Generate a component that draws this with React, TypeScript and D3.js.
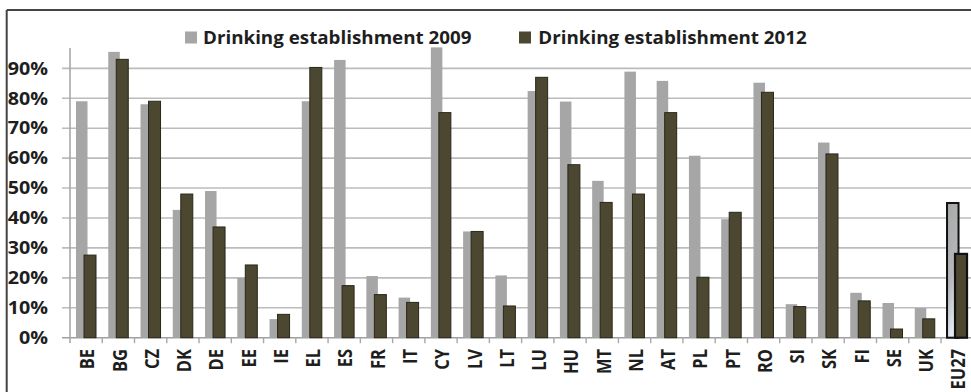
import React from "react";
import * as d3 from "d3";

const categories = ["BE","BG","CZ","DK","DE","EE","IE","EL","ES","FR","IT","CY","LV","LT","LU","HU","MT","NL","AT","PL","PT","RO","SI","SK","FI","SE","UK","EU27"];
const values2009 = [79,95.5,78,42.7,49,20,6.2,79,92.8,20.6,13.4,97,35.5,20.8,82.4,78.9,52.4,88.9,85.8,60.8,39.6,85.2,11.2,65.2,15,11.6,9.9,45];
const values2012 = [27.6,93,79,48,37,24.3,7.8,90.3,17.4,14.4,11.8,75.2,35.5,10.6,87,57.8,45.2,48,75.2,20.2,41.9,82,10.4,61.4,12.3,2.9,6.3,28];
const yTicks = [0,10,20,30,40,50,60,70,80,90];
const seriesNames = ["Drinking establishment 2009","Drinking establishment 2012"];

const W = 971, H = 392;
const GRAY = "#a6a6a6";
const DARK = "#4c4731";
const DARK_STROKE = "#2a2718";
const FONT = "'Open Sans', 'DejaVu Sans', sans-serif";

export default function App() {
  const x = d3.scaleBand<string>().domain(categories).range([70, 70 + 28 * 32.26]).paddingInner(0).paddingOuter(0);
  const y = d3.scaleLinear().domain([0, 100]).range([337.7, 38.4]);
  const bw = x.bandwidth();
  const gOff = bw * 0.186, gW = bw * 0.357;
  const dOff = bw * 0.434, dW = bw * 0.372;
  const last = categories.length - 1;

  return (
    <div style={{ position: "absolute", left: 0, top: 0 }}>
      <svg width={W} height={H} style={{ display: "block", background: "#fff" }}>
        <defs>
          <linearGradient id="euGray" x1="0" y1="0" x2="0.3" y2="1">
            <stop offset="0" stopColor="#a8a8a8" />
            <stop offset="0.6" stopColor="#b4b6b9" />
            <stop offset="1" stopColor="#e4ebf3" />
          </linearGradient>
        </defs>
        {/* frame */}
        <line x1={6.7} x2={W} y1={10} y2={10} stroke="#444" strokeWidth={2} />
        <line x1={6.7} x2={6.7} y1={10} y2={H} stroke="#444" strokeWidth={2} />

        {/* gridlines */}
        {yTicks.map((t) => (
          <line key={"g" + t} x1={62} x2={W} y1={y(t)} y2={y(t)} stroke={t === 0 ? "#a0a0a0" : "#bcbcbc"} strokeWidth={1.6} />
        ))}
        {/* y axis */}
        <line x1={70} x2={70} y1={48} y2={343} stroke="#a8a8a8" strokeWidth={1.6} />
        {/* x ticks */}
        {categories.map((c, i) => (i > 0 ? (
          <line key={"t" + c} x1={x(c)!} x2={x(c)!} y1={y(0)} y2={y(0) + 5.5} stroke="#a8a8a8" strokeWidth={1.4} />
        ) : null))}

        {/* bars */}
        {categories.map((c, i) => {
          const x0 = x(c)!;
          const isEU = i === last;
          return (
            <g key={"b" + c}>
              <rect x={x0 + gOff} y={y(values2009[i])} width={gW} height={y(0) - y(values2009[i])}
                fill={isEU ? "url(#euGray)" : GRAY} stroke={isEU ? "#111" : "none"} strokeWidth={isEU ? 2 : 0} />
              <rect x={x0 + dOff} y={y(values2012[i])} width={dW} height={y(0) - y(values2012[i])}
                fill={DARK} stroke={isEU ? "#111" : DARK_STROKE} strokeWidth={isEU ? 2.2 : 1} />
            </g>
          );
        })}

        {/* y labels */}
        {yTicks.map((t) => (
          <text key={"l" + t} transform={`translate(48,${y(t) + 6.3}) scale(1.16,1)`} textAnchor="end"
            fontFamily={FONT} fontWeight="bold" fontSize={17} fill="#1e1e1e">{t + "%"}</text>
        ))}

        {/* x labels */}
        {categories.map((c) => (
          <text key={"x" + c} transform={`translate(${x(c)! + bw / 2 + 1},349) scale(1.22,1) rotate(-90)`}
            textAnchor="end" dy="0.36em" fontFamily={FONT} fontWeight="bold" fontSize={16.5} fill="#1e1e1e">{c}</text>
        ))}

        {/* legend */}
        <rect x={185} y={31.5} width={12} height={12} fill={GRAY} />
        <text x={203} y={43.8} fontFamily={FONT} fontWeight="bold" fontSize={17} fill="#1e1e1e"
          textLength={268.5} lengthAdjust="spacingAndGlyphs">{seriesNames[0]}</text>
        <rect x={519} y={31.5} width={12} height={12} fill={DARK} />
        <text x={538.3} y={43.8} fontFamily={FONT} fontWeight="bold" fontSize={17} fill="#1e1e1e"
          textLength={268.5} lengthAdjust="spacingAndGlyphs">{seriesNames[1]}</text>
      </svg>
    </div>
  );
}
